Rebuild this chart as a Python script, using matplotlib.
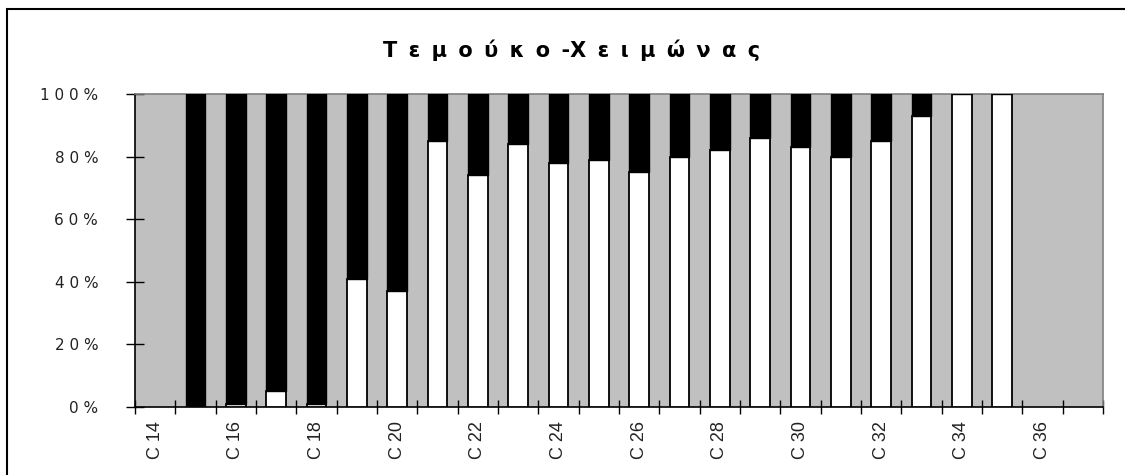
import matplotlib
matplotlib.use("Agg")
import matplotlib.pyplot as plt
from matplotlib.patches import Rectangle
import numpy as np

# Categories C 14 .. C 37
categories = [f"C {n}" for n in range(14, 38)]

# Share (%) of the lower (white) series per category; None = no bar
white_pct = [None, 0, 1, 5, 1, 41, 37, 85, 74, 84, 78, 79, 75, 80, 82, 86, 83, 80, 85, 93, 100, 100, None, None]
# Share (%) of the upper (black) series
black_pct = [None if w is None else 100 - w for w in white_pct]

title = " \u2009".join("Τεμούκο") + " \u2009-" + " \u2009".join("Χειμώνας")
y_ticks = [0, 20, 40, 60, 80, 100]
y_tick_labels = ["0 %", "2 0 %", "4 0 %", "6 0 %", "8 0 %", "1 0 0 %"]

fig = plt.figure(figsize=(11.25, 4.75), dpi=100)
W, H = 1125, 475

# Outer chart frame
fig.patches.append(Rectangle((7 / W, -0.05), 1.2, 1 - 9 / H + 0.05, transform=fig.transFigure,
                             fill=False, edgecolor="black", linewidth=1.5))

ax = fig.add_axes([135 / W, 1 - 407 / H, (1103 - 135) / W, (407 - 94) / H])
ax.set_facecolor("#c0c0c0")

x = np.arange(len(categories))
idx = [i for i, w in enumerate(white_pct) if w is not None]
wv = np.array([white_pct[i] for i in idx], dtype=float)
bv = np.array([black_pct[i] for i in idx], dtype=float)
bar_w = 0.48
ax.bar(x[idx], wv, width=bar_w, color="white", edgecolor="black", linewidth=1.3, zorder=3)
ax.bar(x[idx], bv, bottom=wv, width=bar_w, color="black", edgecolor="black", linewidth=1.0, zorder=3)

ax.set_xlim(-0.5, len(categories) - 0.5)
ax.set_ylim(0, 100)

# Spines
for s in ("top", "right"):
    ax.spines[s].set_color("#808080")
    ax.spines[s].set_linewidth(1.2)
for s in ("left", "bottom"):
    ax.spines[s].set_color("black")
    ax.spines[s].set_linewidth(1.2)

# Y axis
ax.set_yticks(y_ticks)
ax.set_yticklabels(y_tick_labels, fontsize=11, family="DejaVu Sans", color="#222222")
ax.tick_params(axis="y", direction="inout", length=13, width=1, pad=20)

# X axis: ticks at category boundaries, labels at every other category center
ax.set_xticks(np.arange(-0.5, len(categories), 1.0))
ax.set_xticklabels([])
ax.tick_params(axis="x", which="major", direction="inout", length=9.5, width=1)
ax.set_xticks(x[::2], minor=True)
ax.set_xticklabels(categories[::2], minor=True, rotation=90, fontsize=13,
                   family="Liberation Sans", color="#222222")
ax.tick_params(axis="x", which="minor", length=0, pad=10)

fig.text(572 / W, 1 - 50 / H, title, ha="center", va="center", fontsize=15,
         fontweight="bold", family="DejaVu Sans")

fig.savefig("out.png", dpi=100)
